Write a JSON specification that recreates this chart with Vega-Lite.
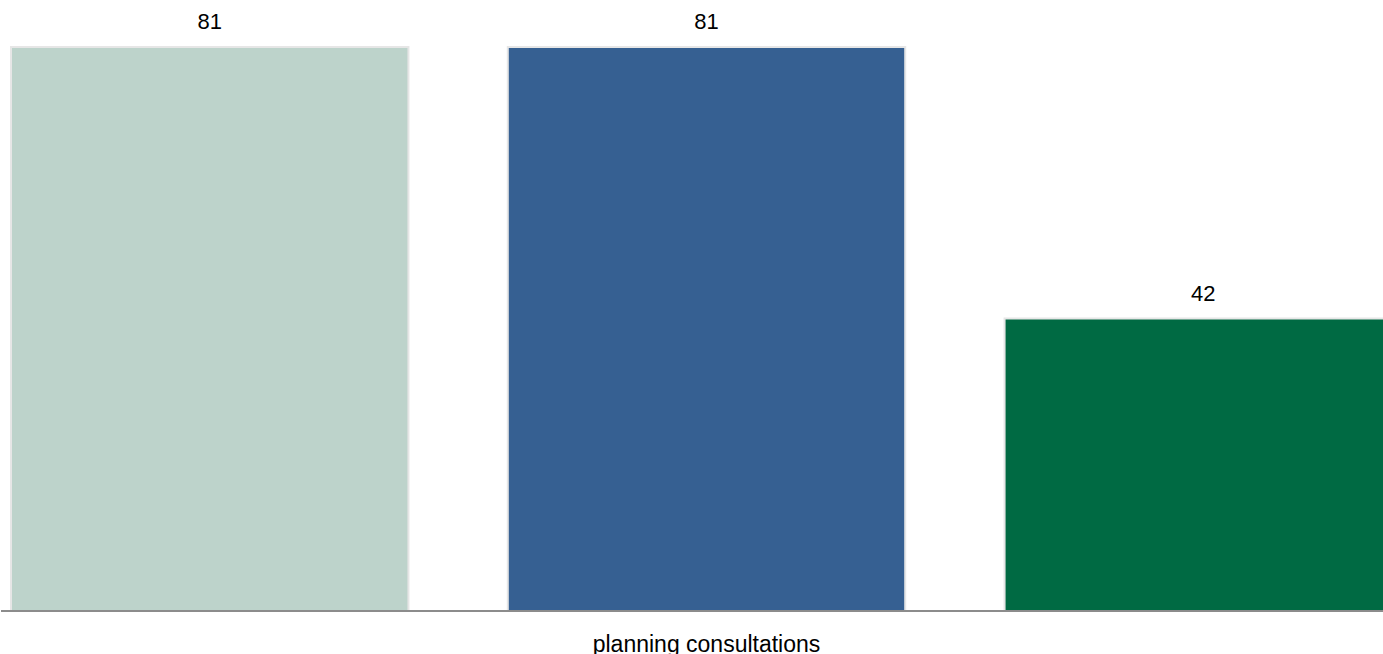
{
  "$schema": "https://vega.github.io/schema/vega-lite/v6.json",
  "width": 1383,
  "height": 611,
  "padding": 0,
  "autosize": {"type": "pad"},
  "background": "white",
  "config": {"view": {"stroke": null}, "font": "Liberation Sans"},
  "data": {"values": [
    {"group": "planning consultations", "series": "A", "value": 81},
    {"group": "planning consultations", "series": "B", "value": 81},
    {"group": "planning consultations", "series": "C", "value": 42}
  ]},
  "encoding": {
    "x": {"field": "group", "type": "nominal", "title": null,
      "scale": {"range": [10, 1401], "paddingInner": 0, "paddingOuter": 0},
      "axis": {"domain": false, "ticks": false, "labelFontSize": 23, "labelColor": "#000000", "labelBaseline": "alphabetic", "labelPadding": 40, "labelLimit": 0, "labelFont": "Liberation Sans", "labelAngle": 0, "grid": false}},
    "xOffset": {"field": "series", "type": "nominal", "scale": {"paddingInner": 0.2, "paddingOuter": 0}},
    "y": {"field": "value", "type": "quantitative", "scale": {"domain": [0, 87.75], "nice": false}, "axis": null}
  },
  "layer": [
    {
      "mark": {"type": "bar", "clip": true, "stroke": "#e6e6e6", "strokeWidth": 2},
      "encoding": {
        "color": {"field": "series", "type": "nominal", "legend": null,
          "scale": {"domain": ["A", "B", "C"], "range": ["#BDD3CB", "#366092", "#006A43"]}}
      }
    },
    {
      "mark": {"type": "text", "baseline": "alphabetic", "dy": -18, "fontSize": 22, "color": "#000000", "font": "Liberation Sans"},
      "encoding": {"text": {"field": "value", "type": "quantitative"}}
    },
    {
      "data": {"values": [{"base": 0}]},
      "mark": {"type": "rule", "color": "#8c8c8c", "strokeWidth": 2},
      "encoding": {"y": {"field": "base", "type": "quantitative"}, "x": null, "xOffset": null}
    }
  ]
}
